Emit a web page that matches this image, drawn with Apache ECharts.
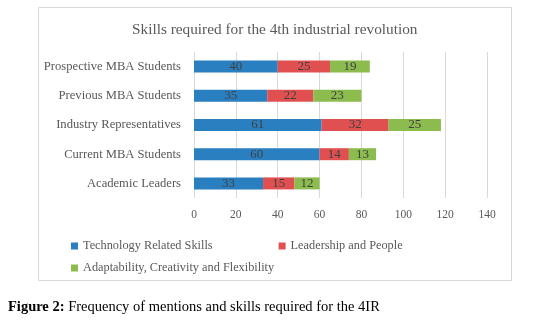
<!DOCTYPE html>
<html>
<head>
<meta charset="utf-8">
<script src="https://cdn.jsdelivr.net/npm/echarts@6/dist/echarts.min.js"></script>
<style>
  html, body { margin: 0; padding: 0; background: #fff; }
  #chart { width: 543px; height: 320px; }
</style>
</head>
<body>
<div id="chart"></div>
<script>
// categories listed bottom -> top (category axis draws the first one at the bottom)
const categories = ['Academic Leaders', 'Current MBA Students', 'Industry Representatives', 'Previous MBA Students', 'Prospective MBA Students']
const techSkills = [33, 60, 61, 35, 40]
const leadership = [15, 14, 32, 22, 25]
const adaptability = [12, 13, 25, 23, 19]
const xTicks = [0, 20, 40, 60, 80, 100, 120, 140]

const serif = 'Liberation Serif'
const textGrey = '#595959'

let barLabel = {
  show: true,
  position: 'inside',
  color: '#404040',
  fontFamily: serif,
  fontSize: 13
}

let option = {
  animation: false,
  title: {
    text: 'Skills required for the 4th industrial revolution',
    left: 127,
    top: 17,
    textStyle: {
      fontFamily: serif,
      fontSize: 15.3,
      fontWeight: 'normal',
      color: textGrey
    }
  },
  graphic: [
    {
      type: 'rect',
      shape: { x: 38.5, y: 7.5, width: 473, height: 273 },
      style: { fill: 'none', stroke: '#d9d9d9', lineWidth: 1 },
      z: -1
    },
    {
      type: 'text',
      left: 8,
      top: 300,
      style: {
        text: '{b|Figure 2:} Frequency of mentions and skills required for the 4IR',
        rich: {
          b: { fontWeight: 'bold', fontFamily: serif, fontSize: 14.5, fill: '#000' }
        },
        fontFamily: serif,
        fontSize: 14.5,
        fill: '#000'
      }
    }
  ],
  legend: [
    {
      data: ['Technology Related Skills', 'Leadership and People'],
      left: 66,
      top: 235,
      icon: 'rect',
      itemWidth: 7,
      itemHeight: 7,
      itemGap: 66,
      textStyle: { fontFamily: serif, fontSize: 12.3, color: textGrey }
    },
    {
      data: ['Adaptability, Creativity and Flexibility'],
      left: 66,
      top: 257,
      icon: 'rect',
      itemWidth: 7,
      itemHeight: 7,
      textStyle: { fontFamily: serif, fontSize: 12.3, color: textGrey }
    }
  ],
  grid: {
    left: 194,
    right: 56,
    top: 52,
    bottom: 122
  },
  xAxis: {
    type: 'value',
    min: 0,
    max: 140,
    interval: 20,
    axisLine: { show: false },
    axisTick: { show: false },
    splitLine: { lineStyle: { color: '#d9d9d9' } },
    axisLabel: {
      margin: 11,
      color: textGrey,
      fontFamily: serif,
      fontSize: 11.5,
      formatter: v => xTicks.includes(v) ? String(v) : ''
    }
  },
  yAxis: {
    type: 'category',
    data: categories,
    axisLine: { show: false },
    axisTick: { show: false },
    axisLabel: {
      margin: 13,
      color: textGrey,
      fontFamily: serif,
      fontSize: 12.6
    }
  },
  series: [
    {
      name: 'Technology Related Skills',
      type: 'bar',
      stack: 'total',
      data: techSkills,
      barWidth: 12,
      itemStyle: { color: '#2A7FC1' },
      label: barLabel
    },
    {
      name: 'Leadership and People',
      type: 'bar',
      stack: 'total',
      data: leadership,
      barWidth: 12,
      itemStyle: { color: '#E05050' },
      label: barLabel
    },
    {
      name: 'Adaptability, Creativity and Flexibility',
      type: 'bar',
      stack: 'total',
      data: adaptability,
      barWidth: 12,
      itemStyle: { color: '#8CBB4E' },
      label: barLabel
    }
  ]
}

let chartInstance = echarts.init(document.getElementById('chart'))
chartInstance.setOption(option)
</script>
</body>
</html>
